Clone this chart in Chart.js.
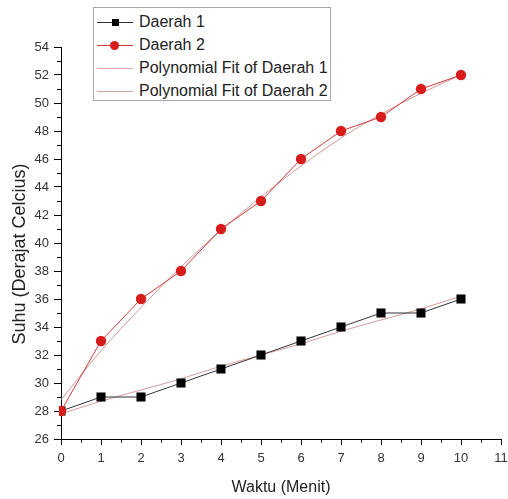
<!DOCTYPE html>
<html>
<head>
<meta charset="utf-8">
<script src="https://cdn.jsdelivr.net/npm/chart.js@4"></script>
<style>
  html, body { margin: 0; padding: 0; background: #fff; }
  #wrap { position: relative; width: 508px; height: 499px; }
  #c { position: absolute; left: 0; top: 0; }
  #legend { position: absolute; left: 93px; top: 7px; width: 236px; height: 92px;
    border: 1px solid #a8a8a8; background: #fff; font-family: "Liberation Sans", Arial, sans-serif;
    font-size: 16px; color: #222; }
  .row { position: absolute; left: 0; height: 20px; width: 236px; }
  .ln { position: absolute; left: 3px; width: 36px; top: 10px; height: 1px; }
  .mk { position: absolute; }
  .tx { position: absolute; left: 45px; top: 1px; line-height: 18px; white-space: nowrap; }
</style>
</head>
<body>
<div id="wrap">
  <canvas id="c" width="508" height="499"></canvas>
  <div id="legend"></div>
</div>
<script>
const waktu = [0, 1, 2, 3, 4, 5, 6, 7, 8, 9, 10];
const daerah1 = [28, 29, 29, 30, 31, 32, 33, 34, 35, 35, 36];
const daerah2 = [28, 33, 36, 38, 41, 43, 46, 48, 49, 51, 52];
const fitDaerah1 = [27.8, 28.7, 29.5, 30.3, 31.2, 32.0, 32.8, 33.7, 34.5, 35.3, 36.2];
const fitDaerah2 = [28.8, 32.3, 35.4, 38.3, 40.9, 43.3, 45.5, 47.5, 49.2, 50.7, 52.0];
const seriesNames = ["Daerah 1", "Daerah 2", "Polynomial Fit of Daerah 1", "Polynomial Fit of Daerah 2"];
const xTitle = "Waktu (Menit)";
const yTitle = "Suhu (Derajat Celcius)";

const pts = ys => waktu.map((x, i) => ({ x: x, y: ys[i] }));
const FONT = '"Liberation Sans", Arial, sans-serif';

const extras = {
  id: 'extras',
  afterDraw(chart) {
    const ctx = chart.ctx;
    const xs = chart.scales.x, ys = chart.scales.y;
    const a = chart.chartArea;
    ctx.save();
    ctx.strokeStyle = '#000';
    ctx.lineWidth = 1;
    ctx.beginPath();
    for (let v = 0.5; v < 11; v += 1) {
      const px = Math.round(xs.getPixelForValue(v)) + 0.5;
      ctx.moveTo(px, a.bottom);
      ctx.lineTo(px, a.bottom + 3.5);
    }
    for (let v = 27; v < 54; v += 2) {
      const py = Math.round(ys.getPixelForValue(v)) + 0.5;
      ctx.moveTo(a.left - 4, py);
      ctx.lineTo(a.left, py);
    }
    ctx.stroke();
    // y axis title
    ctx.fillStyle = '#222';
    ctx.font = '18px ' + FONT;
    ctx.textAlign = 'center';
    ctx.textBaseline = 'middle';
    ctx.translate(20, 254);
    ctx.rotate(-Math.PI / 2);
    ctx.fillText(yTitle, 0, 0);
    ctx.restore();
  }
};

new Chart(document.getElementById('c'), {
  type: 'scatter',
  data: {
    datasets: [
      { label: seriesNames[0], data: pts(daerah1), showLine: true, borderColor: '#333', borderWidth: 1,
        pointStyle: 'rect', pointRadius: 6.4, pointBackgroundColor: '#000', pointBorderColor: '#000',
        pointBorderWidth: 0, order: 1, clip: 2 },
      { label: seriesNames[1], data: pts(daerah2), showLine: true, borderColor: '#d03a3a', borderWidth: 1,
        pointStyle: 'circle', pointRadius: 5.2, pointBackgroundColor: '#d81c1c', pointBorderColor: '#d81c1c',
        pointBorderWidth: 0, order: 0, clip: 2 },
      { label: seriesNames[2], data: pts(fitDaerah1), showLine: true, borderColor: '#d89a9a', borderWidth: 1,
        pointRadius: 0, cubicInterpolationMode: 'monotone', order: 2 },
      { label: seriesNames[3], data: pts(fitDaerah2), showLine: true, borderColor: '#d49696', borderWidth: 1,
        pointRadius: 0, cubicInterpolationMode: 'monotone', order: 3 }
    ]
  },
  options: {
    responsive: false,
    animation: false,
    devicePixelRatio: 1,
    layout: { padding: { top: 47, right: 7, left: 0, bottom: 0 } },
    plugins: { legend: { display: false }, tooltip: { enabled: false } },
    scales: {
      x: {
        type: 'linear', min: 0, max: 11,
        afterFit(s) { s.height = 60; s.paddingLeft = 0; s.paddingRight = 0; },
        ticks: { stepSize: 1, color: '#333', font: { family: FONT, size: 13 }, padding: 6, maxRotation: 0, autoSkip: false },
        grid: { display: true, drawOnChartArea: false, drawTicks: true, tickLength: 6, color: '#000', tickColor: '#000' },
        border: { display: true, color: '#000', width: 1 },
        title: { display: true, text: xTitle, color: '#222', font: { family: FONT, size: 16 }, padding: { top: 0, bottom: 2 } }
      },
      y: {
        type: 'linear', min: 26, max: 54,
        afterFit(s) { s.width = 61; s.paddingTop = 0; s.paddingBottom = 0; },
        ticks: { stepSize: 2, color: '#333', font: { family: FONT, size: 13 }, padding: 5, autoSkip: false },
        grid: { display: true, drawOnChartArea: false, drawTicks: true, tickLength: 7, color: '#000', tickColor: '#000' },
        border: { display: true, color: '#000', width: 1 },
        title: { display: false }
      }
    }
  },
  plugins: [extras]
});

// HTML legend (real text)
const legendEl = document.getElementById('legend');
const legendSpec = [
  { name: seriesNames[0], line: '#333', marker: 'sq' },
  { name: seriesNames[1], line: '#d03a3a', marker: 'ci' },
  { name: seriesNames[2], line: '#e0a8a8', marker: null },
  { name: seriesNames[3], line: '#cfa4a4', marker: null }
];
const rowTops = [4, 27, 50, 73];
legendSpec.forEach((s, i) => {
  const row = document.createElement('div');
  row.className = 'row';
  row.style.top = rowTops[i] + 'px';
  const ln = document.createElement('div');
  ln.className = 'ln';
  ln.style.background = s.line;
  row.appendChild(ln);
  if (s.marker) {
    const mk = document.createElement('div');
    mk.className = 'mk';
    if (s.marker === 'sq') {
      mk.style.cssText = 'left:18px;top:7px;width:7px;height:7px;background:#000;';
    } else {
      mk.style.cssText = 'left:16px;top:6px;width:9px;height:9px;border-radius:50%;background:#d81c1c;';
    }
    row.appendChild(mk);
  }
  const tx = document.createElement('div');
  tx.className = 'tx';
  tx.textContent = s.name;
  row.appendChild(tx);
  legendEl.appendChild(row);
});
</script>
</body>
</html>
